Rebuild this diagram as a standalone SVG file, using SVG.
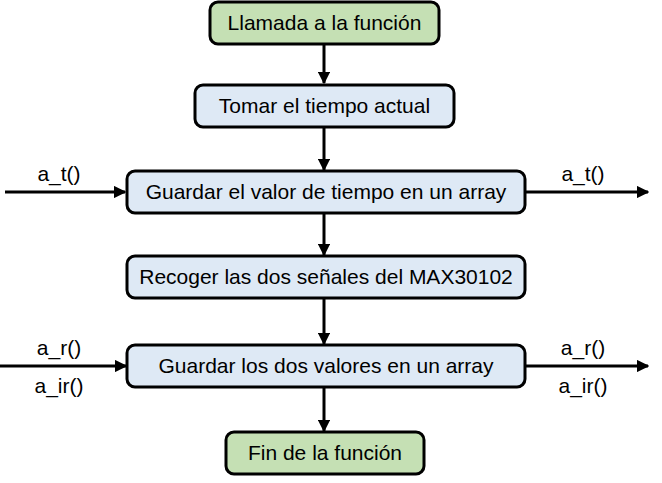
<svg xmlns="http://www.w3.org/2000/svg" width="662" height="483" viewBox="0 0 662 483">
<defs>
<style>
.box{stroke:#000;stroke-width:3}
.g{fill:#c5e0b4}
.b{fill:#dee9f5}
text{font-family:"Liberation Sans",Arial,sans-serif;font-size:21px;fill:#000;text-anchor:middle}
.c{stroke:#000;stroke-width:3;fill:none;marker-end:url(#ah)}
</style>
<marker id="ah" viewBox="0 0 10 10" refX="9" refY="5" markerWidth="4.2" markerHeight="4.2" orient="auto" markerUnits="strokeWidth">
<path d="M0,0 L10,5 L0,10 z" fill="#000"/>
</marker>
</defs>
<rect width="662" height="483" fill="#fff"/>
<g id="connectors">
<line class="c" x1="324" y1="44" x2="324" y2="83"/>
<line class="c" x1="324" y1="127" x2="324" y2="170"/>
<line class="c" x1="324" y1="213" x2="324" y2="255"/>
<line class="c" x1="324" y1="298" x2="324" y2="344"/>
<line class="c" x1="324" y1="387" x2="324" y2="431"/>
<line class="c" x1="5" y1="192" x2="125" y2="192"/>
<line class="c" x1="525" y1="192" x2="648" y2="192"/>
<line class="c" x1="0" y1="366" x2="126" y2="366"/>
<line class="c" x1="525" y1="366" x2="648" y2="366"/>
<text x="59" y="181">a_t()</text>
<text x="583" y="181">a_t()</text>
<text x="59" y="355">a_r()</text>
<text x="59" y="393">a_ir()</text>
<text x="583" y="355">a_r()</text>
<text x="583" y="393">a_ir()</text>
</g>
<g id="n1"><rect class="box g" x="210" y="2" width="229" height="42" rx="8"/><text x="324.5" y="30">Llamada a la función</text></g>
<g id="n2"><rect class="box b" x="195" y="85" width="259" height="42" rx="8"/><text x="324.5" y="113">Tomar el tiempo actual</text></g>
<g id="n3"><rect class="box b" x="127" y="171" width="398" height="42" rx="8"/><text x="326" y="199">Guardar el valor de tiempo en un array</text></g>
<g id="n4"><rect class="box b" x="127" y="256" width="398" height="42" rx="8"/><text x="326" y="284">Recoger las dos señales del MAX30102</text></g>
<g id="n5"><rect class="box b" x="127" y="345" width="398" height="42" rx="8"/><text x="326" y="373">Guardar los dos valores en un array</text></g>
<g id="n6"><rect class="box g" x="226" y="432" width="198" height="42" rx="8"/><text x="325" y="460">Fin de la función</text></g>
</svg>
